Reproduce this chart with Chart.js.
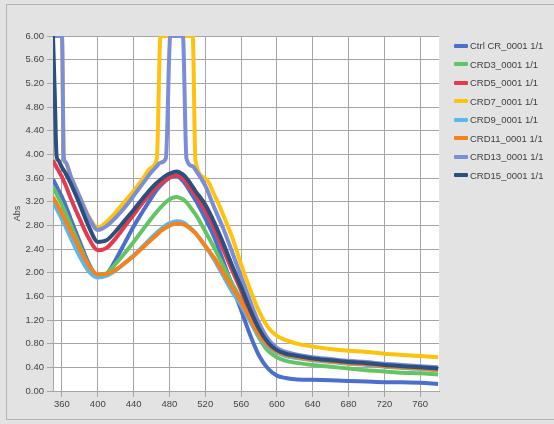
<!DOCTYPE html>
<html>
<head>
<meta charset="utf-8">
<script src="https://cdn.jsdelivr.net/npm/chart.js@4.4.0/dist/chart.umd.min.js"></script>
<style>
  html, body { margin: 0; padding: 0; background: #e3e3e3; }
  body { width: 554px; height: 424px; position: relative; overflow: hidden; font-family: "Liberation Sans", Arial, sans-serif; }
  #frame { position: absolute; left: 6px; top: 4px; width: 560px; height: 416px; box-sizing: border-box; border: 1px solid #b4b4b4; }
  #wrap { position: absolute; left: 0; top: 0; width: 554px; height: 424px; }
  #legend { position: absolute; left: 454px; top: 36.5px; font-size: 9.5px; color: #404040; }
  .item { display: flex; align-items: center; height: 18.5px; white-space: nowrap; }
  .swatch { width: 14px; height: 4px; margin-right: 2px; border-radius: 1px; }
</style>
</head>
<body>
<div id="frame"></div>
<div id="wrap"><canvas id="chart" width="554" height="424"></canvas></div>
<div id="legend"></div>
<script>
// wavelength (nm) of each sample
const wavelengths = [350, 352, 354, 356, 358, 360, 362, 364, 370, 380, 390, 400,
  410, 420, 430, 440, 450, 460, 466, 470, 476, 481, 488, 495, 499, 506, 509,
  520, 530, 540, 550, 560, 570, 580, 590, 600, 610, 620, 640, 660, 680, 700,
  720, 740, 760, 780];

const ctrlCR = [3.58, 3.52, 3.46, 3.40, 3.34, 3.28, 3.21, 3.14, 2.90, 2.52, 2.15, 1.94,
  1.98, 2.22, 2.50, 2.78, 3.03, 3.27, 3.40, 3.47, 3.56, 3.61, 3.63, 3.55, 3.47, 3.30, 3.23,
  2.92, 2.60, 2.20, 1.78, 1.37, 0.95, 0.60, 0.38, 0.26, 0.22, 0.20, 0.19, 0.18, 0.17, 0.16,
  0.15, 0.15, 0.14, 0.12];
const crd3 = [3.45, 3.39, 3.33, 3.27, 3.21, 3.15, 3.08, 3.01, 2.80, 2.45, 2.12, 1.96,
  1.99, 2.15, 2.33, 2.52, 2.72, 2.92, 3.03, 3.10, 3.19, 3.25, 3.28, 3.24, 3.19, 3.05, 2.99,
  2.70, 2.42, 2.12, 1.82, 1.54, 1.20, 0.90, 0.68, 0.57, 0.51, 0.48, 0.44, 0.41, 0.38, 0.35,
  0.33, 0.31, 0.30, 0.28];
const crd5 = [3.90, 3.84, 3.78, 3.73, 3.67, 3.62, 3.55, 3.48, 3.25, 2.90, 2.58, 2.38,
  2.42, 2.58, 2.78, 2.98, 3.18, 3.36, 3.45, 3.50, 3.57, 3.62, 3.65, 3.59, 3.52, 3.37, 3.31,
  3.05, 2.75, 2.40, 2.04, 1.70, 1.33, 1.02, 0.80, 0.68, 0.62, 0.59, 0.54, 0.51, 0.48, 0.46,
  0.43, 0.41, 0.39, 0.37];
const crd7 = [6.00, 6.00, 6.00, 6.00, 6.00, 6.00, 3.93, 3.86, 3.62, 3.28, 2.95, 2.76,
  2.86, 3.02, 3.20, 3.38, 3.58, 3.78, 3.94, 6.00, 6.00, 6.00, 6.00, 6.00, 6.00, 6.00, 3.90,
  3.60, 3.32, 2.98, 2.60, 2.14, 1.72, 1.35, 1.08, 0.93, 0.86, 0.81, 0.75, 0.71, 0.68, 0.66,
  0.63, 0.61, 0.59, 0.57];
const crd9 = [3.20, 3.14, 3.08, 3.02, 2.96, 2.90, 2.84, 2.78, 2.58, 2.27, 2.02, 1.92,
  1.95, 2.04, 2.16, 2.29, 2.44, 2.59, 2.68, 2.73, 2.80, 2.84, 2.87, 2.85, 2.81, 2.72, 2.67,
  2.45, 2.22, 1.95, 1.68, 1.45, 1.18, 0.92, 0.74, 0.65, 0.59, 0.56, 0.52, 0.49, 0.46, 0.44,
  0.41, 0.39, 0.37, 0.35];
const crd11 = [3.28, 3.22, 3.17, 3.11, 3.06, 3.00, 2.94, 2.88, 2.70, 2.40, 2.12, 1.97,
  1.98, 2.05, 2.16, 2.28, 2.42, 2.56, 2.64, 2.70, 2.76, 2.80, 2.83, 2.82, 2.79, 2.71, 2.67,
  2.45, 2.25, 2.00, 1.75, 1.51, 1.22, 0.95, 0.77, 0.67, 0.61, 0.58, 0.53, 0.50, 0.47, 0.45,
  0.42, 0.40, 0.38, 0.36];
const crd13 = [6.00, 6.00, 6.00, 6.00, 6.00, 6.00, 3.94, 3.87, 3.62, 3.27, 2.93, 2.72,
  2.79, 2.93, 3.10, 3.30, 3.50, 3.70, 3.80, 3.86, 3.93, 6.00, 6.00, 6.00, 3.93, 3.80, 3.74,
  3.47, 3.10, 2.75, 2.35, 1.93, 1.52, 1.15, 0.88, 0.73, 0.66, 0.62, 0.57, 0.54, 0.51, 0.49,
  0.46, 0.44, 0.42, 0.40];
const crd15 = [6.00, 5.00, 3.97, 3.90, 3.84, 3.78, 3.73, 3.68, 3.50, 3.15, 2.78, 2.52,
  2.55, 2.70, 2.88, 3.06, 3.25, 3.43, 3.52, 3.57, 3.64, 3.68, 3.71, 3.66, 3.60, 3.45, 3.38,
  3.15, 2.85, 2.50, 2.12, 1.76, 1.38, 1.05, 0.82, 0.69, 0.63, 0.60, 0.55, 0.52, 0.49, 0.47,
  0.44, 0.42, 0.40, 0.38];

const seriesNames = ["Ctrl CR_0001 1/1", "CRD3_0001 1/1", "CRD5_0001 1/1", "CRD7_0001 1/1",
  "CRD9_0001 1/1", "CRD11_0001 1/1", "CRD13_0001 1/1", "CRD15_0001 1/1"];
const seriesValues = [ctrlCR, crd3, crd5, crd7, crd9, crd11, crd13, crd15];
const seriesColors = ["#4b6fcb", "#62c462", "#e53a4e", "#ffc20e",
  "#5ab8ea", "#f5821f", "#7b8dd8", "#2c4f7c"];

const xTicks = [360, 400, 440, 480, 520, 560, 600, 640, 680, 720, 760];
const yTicks = [0, 0.4, 0.8, 1.2, 1.6, 2.0, 2.4, 2.8, 3.2, 3.6, 4.0, 4.4, 4.8, 5.2, 5.6, 6.0];

const gridColor = "#a6a6a6";
const tickFont = { family: "'Liberation Sans', Arial, sans-serif", size: 9.5 };

// legend (kept in html so it can sit exactly where the original has it)
const legendDiv = document.getElementById("legend");
seriesNames.forEach((name, i) => {
  const row = document.createElement("div");
  row.className = "item";
  const sw = document.createElement("span");
  sw.className = "swatch";
  sw.style.background = seriesColors[i];
  const txt = document.createElement("span");
  txt.textContent = name;
  row.appendChild(sw);
  row.appendChild(txt);
  legendDiv.appendChild(row);
});

const plotBackground = {
  id: "plotBackground",
  beforeDraw(chart) {
    const { ctx, chartArea: a } = chart;
    ctx.save();
    ctx.fillStyle = "#ffffff";
    ctx.fillRect(a.left, a.top, a.right - a.left, a.bottom - a.top);
    ctx.restore();
  },
};

const datasets = seriesNames.map((name, i) => ({
  label: name,
  data: wavelengths.map((w, j) => ({ x: w, y: seriesValues[i][j] })),
  borderColor: seriesColors[i],
  backgroundColor: seriesColors[i],
  borderWidth: 4,
  pointRadius: 0,
  cubicInterpolationMode: "monotone",
  // later series sit on top, like the original
  order: seriesNames.length - i,
}));

new Chart(document.getElementById("chart"), {
  type: "line",
  data: { datasets },
  options: {
    responsive: false,
    animation: false,
    layout: { padding: { left: 7, top: 36, right: 115, bottom: 0 } },
    plugins: {
      legend: { display: false },
      tooltip: { enabled: false },
    },
    scales: {
      x: {
        type: "linear",
        min: 350,
        max: 781,
        afterBuildTicks: (scale) => {
          scale.ticks = xTicks.map((v) => ({ value: v }));
        },
        afterFit: (scale) => {
          scale.height = 33;
        },
        grid: { color: gridColor, tickLength: 6, tickColor: gridColor },
        border: { color: gridColor },
        ticks: { color: "#444", font: tickFont, padding: 2, maxRotation: 0, autoSkip: false },
      },
      y: {
        min: 0,
        max: 6,
        afterBuildTicks: (scale) => {
          scale.ticks = yTicks.map((v) => ({ value: v }));
        },
        afterFit: (scale) => {
          scale.width = 46;
        },
        grid: { color: gridColor, tickLength: 6, tickColor: gridColor },
        border: { color: gridColor },
        ticks: {
          color: "#444",
          font: tickFont,
          padding: 3,
          autoSkip: false,
          callback: (v) => Number(v).toFixed(2),
        },
        title: {
          display: true,
          text: "Abs",
          color: "#444",
          font: { family: "'Liberation Sans', Arial, sans-serif", size: 9 },
          padding: { top: 5, bottom: 0 },
        },
      },
    },
  },
  plugins: [plotBackground],
});
</script>
</body>
</html>
